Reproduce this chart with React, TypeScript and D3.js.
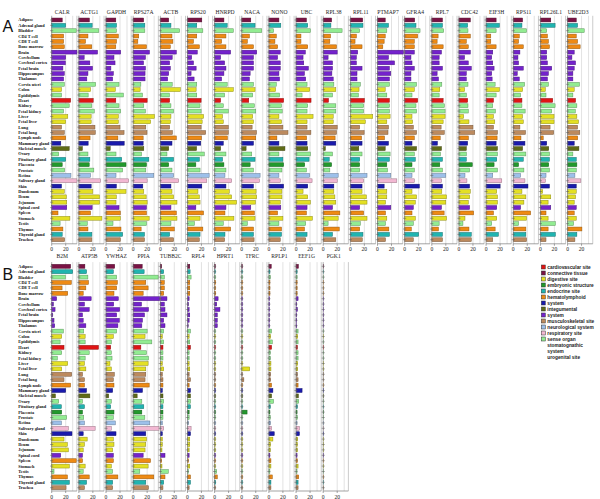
import React from 'react';
import * as d3 from 'd3';

const tissues = ['Adipose','Adrenal gland','Bladder','CD4 T cell','CD8 T cell','Bone marrow','Brain','Cerebellum','Cerebral cortex','Fetal brain','Hippocampus','Thalamus','Cervix uteri','Colon','Epididymis','Heart','Kidney','Fetal kidney','Liver','Fetal liver','Lung','Fetal lung','Lymph node','Mammary gland','Skeletal muscle','Ovary','Pituitary gland','Placenta','Prostate','Retina','Salivary gland','Skin','Duodenum','Ileum','Jejunum','Spinal cord','Spleen','Stomach','Testis','Thymus','Thyroid gland','Trachea'];

const categories = ['cardiovascular site','connective tissue','digestive site','embryonic structure','endocrine site','hematolymphoid system','integumental system','musculoskeletal site','neurological system','respiratory site','sense organ','stomatognathic system','urogenital site'];
const categoryColors = ['#E01414','#7A1244','#E4E024','#22992C','#20B4B0','#EE8A14','#1A1AAC','#5F6B16','#7422CC','#BC8A5E','#9DC0EA','#F2B8D2','#92EC92'];
const legendLines = ['cardiovascular site','connective tissue','digestive site','embryonic structure','endocrine site','hematolymphoid','system','integumental','system','musculoskeletal site','neurological system','respiratory site','sense organ','stomatognathic','system','urogenital site'];
// category index per tissue
const tissueCategory = [1,4,12,5,5,5,8,8,8,8,8,8,12,2,12,0,12,12,2,2,9,9,5,6,7,12,4,3,12,10,11,6,2,2,2,8,5,2,12,5,4,9];

const genesA = ['CALR','ACTG1','GAPDH','RPS27A','ACTB','RPS20','HNRPD','NACA','NONO','UBC','RPL38','RPL11','PTMAP7','GFRA4','RPL7','CDC42','EIF3H','RPS11','RPL26L1','UBE2D3'];
const CALR = [15,20,35,17,17,18,36,20,19.5,16,18,17,18,14,14,27,25,17,23,20,14,18,20,13,25,10,20,15,18.5,27.5,36,14,18,21,21.5,21.5,9,26,12,16,15,18.5];
const ACTG1 = [15,19,28.5,13,9.5,18.5,26.7,7.6,15.7,19.5,13,11.4,24,16.7,13.3,20.5,18.5,22,17.6,17.6,23,23.5,16,13.3,5,13,15.7,14.8,21.4,16.7,31,17.6,20,29.5,29.5,19,16.7,33,12,13,18.6,18.6];
const GAPDH = [14,15,15,17.6,15,14,21,11.4,12.9,7,10.5,9.5,18.6,13.3,24.8,14,18.6,21,17.6,17.6,20,25.8,17,26,6,14.3,22.4,28.6,23.8,14.3,32.4,14.8,28.6,14.8,14.3,18.6,20.5,20.5,10,21.4,23.8,20.5];
const RPS27A = [15,16.7,16.7,8,6.7,19,23.3,17.6,14.8,17.6,17,17,11,10,13.3,20,15.2,17.6,30.5,25,18,19.8,14.3,14.3,15.2,12,22.4,19,18,29.5,20,13.8,15.2,18.6,20,19,19,22.9,19,11.4,16.2,16.2];
const ACTB = [12,15.2,27.6,16.7,18,14.3,22.9,17,13.3,14.3,12,10.5,17,28.6,12.9,13.3,15.2,19,15.2,14.3,13.3,17.3,22.9,16.7,12,9.5,19,12,16.7,19,26.2,15.2,16.7,19,23.8,15.2,22.9,23.8,15.2,20,13.3,19];
const RPS20 = [20.5,13.3,22,13.3,8.6,17,14,6,8.6,12.4,5.2,9.5,13.3,12.4,13.3,19.5,18,19.5,23,21,19.5,26,20,19,13,24,17,12,18,31,27.6,20.5,15,17,18,12,23,18,10,22,18,17];
const HNRPD = [13.3,18,26.7,16.2,10,16.2,22.9,8.6,14.3,16.2,13.3,10,18,26.7,14.3,8.6,12.4,19.5,11.4,12.4,19.5,19.5,18.3,12.4,8.6,16.2,11.4,13.3,16.2,14.8,24.3,16.2,21,24.3,31.4,16.2,14.8,27.6,12.4,22.9,14.8,14.3];
const NACA = [12.9,19,28.6,11,8,16.7,21.4,16.7,16.7,16.7,12,11,16.7,19,15.7,10,18,20,15.7,16.7,14.8,21,20,16.7,6.2,14.3,19,12,16.7,26.2,25.2,16.7,20.5,21.4,19.5,12.9,18,19,8,16.7,16.7,17.6];
const NONO = [14.3,17,6.7,10.5,8.6,12.4,16.2,12.4,16.2,16.2,14.3,15.2,10.5,9.5,15.2,21,18,19,14.3,18,20,27.3,11.4,14.3,22.9,14.3,20,21,18.6,14.3,16.2,21,18.6,18.6,16.2,17,12.4,20,14.3,18,18,16.2];
const UBC = [14.8,16.7,20.5,7,7,16.7,13.3,10,11,17.6,12,13.8,15.7,19.5,8.6,21.4,16.7,15.7,24.3,15.7,15.7,21.2,15,15.7,16.7,20.5,18.6,12.4,14.8,19.5,22.9,16.7,10,16.7,20.5,15.7,14.8,23.3,13.8,12,15.7,13.8];
const RPL38 = [12,11,27,10.5,9.5,19,20,7,13.3,13.3,12.4,14.3,15.2,18,13.3,7.6,18,18,14.3,14.3,20,19,17,18,3,13.3,8.6,12,9.5,21.4,20,15.2,15.2,16.7,18,13.3,23.8,21.4,7,22.9,13.3,18];
const RPL11 = [17.6,18,13.3,8.6,6.7,16.7,10.5,8.6,8.6,16.7,9.5,9.5,14.3,12.4,11.4,20,19,19,32,21.4,13.3,19.7,16,16.7,12,16.7,13.3,13.3,13.3,23.8,19,16.7,16.7,22.9,23.8,13.3,19,23.8,14.3,13.3,18,17];
const PTMAP7 = [11,15.7,13.3,11,9.5,7.6,37,15.7,24.3,17,19,17,17,11,13.3,17,17,17,18,13.3,15.7,15,10,15.7,11,18,17,13.3,14.3,19,27.6,9.5,13.3,13.3,11.4,19,11.4,13.3,11.4,16.2,17,11.4];
const GFRA4 = [14.3,16.2,22,18.6,13.8,13.8,13.8,9,10.5,13.8,9,9,17,13.8,10.5,18.6,16.2,17,10.5,11.4,12.4,17,13.8,10.5,17,13.8,15.2,10.5,13.8,10.5,13.8,21,10.5,17,15.2,12.4,10.5,15.2,12.4,9.5,20,12.4];
const RPL7 = [15.2,15.2,17,9,7.6,16.2,13.8,10.5,10.5,15.2,7.6,9.5,14.3,11.4,10.5,16.2,18,19,19,16.2,13.3,17.8,12,8,13.8,12.4,15.2,11.4,15.2,20,13.8,15.2,14.3,21,20,13.8,17.6,21,10.5,9.5,15.2,15.2];
const CDC42 = [16.2,12.4,12.9,16.2,10.5,13.3,16.2,8,13.3,17.6,10.5,10.5,12.9,8,10.5,12.4,12.9,13.3,6.7,14.3,20,22.6,13.5,12.4,10.5,10.5,10.5,19,15.2,8.6,11.4,15.2,16.2,15.2,13.3,15.2,21,8.6,5.7,14.3,17.6,17.6];
const EIF3H = [14.3,19,14.3,6.7,6.7,14.3,9.5,8,9.5,11.4,8,8.6,12.9,19,14.3,10.5,9.5,13.3,10.5,12.4,10.5,16.2,15.7,14.3,16.2,16.2,15.2,11.4,16.2,9.5,22.4,20,15.2,16.2,16.2,15.2,10.5,15.2,8,12.9,17.6,9.5];
const RPS11 = [13.3,12.4,19,8.6,7.6,14.3,9.5,6.7,7.6,14.3,5.7,8.6,16.2,13.3,10.5,12.4,12.4,17,13.3,14.3,9.5,17.5,11,16.7,13.3,18,14.3,7.6,15.2,10.5,16.7,21,12.4,18,15.2,10.5,24.8,19,7.6,18,18,19];
const RPL26L1 = [14.8,21,9,10,11.4,12.9,9,9,10,16.2,11.4,10,11.4,7,8,17.6,21,16.2,19.5,19.5,13.8,19,4,9,11.9,12.9,12.9,11.9,12.9,8,7,12.9,3.3,14.8,11,14.8,8,11,21.4,11,21.4,8];
const UBE2D3 = [12.4,14.3,23.8,12.4,14.3,18,9.5,6.2,11.4,9.5,7.6,7.6,17,9.5,7.6,11.4,13.3,11,13.3,15.7,14.3,17.5,14.5,9.5,16.2,7.6,12.4,13.3,12.4,10.5,19,12.4,12.4,11.4,9.5,12.4,9.5,12.4,8.6,20.5,13.3,10.5];
const valuesA = [CALR,ACTG1,GAPDH,RPS27A,ACTB,RPS20,HNRPD,NACA,NONO,UBC,RPL38,RPL11,PTMAP7,GFRA4,RPL7,CDC42,EIF3H,RPS11,RPL26L1,UBE2D3];

const genesB = ['B2M','ATP5B','YWHAZ','PPIA','TUBB2C','RPL4','HPRT1','TFRC','RPLP1','EEF1G','PGK1'];
const B2M = [27,30,19.5,28,14.8,22.9,7,2.4,4.8,1.4,3.3,4.3,16.7,14.3,12,17.6,14.3,8,22.9,14.3,28.6,17.6,27,20,5.2,10,13.8,14.3,21.4,13.8,23.8,29,17.6,22.4,23.8,12.9,35,25.2,3.3,22.4,25.2,20.5];
const ATP5B = [8.6,11,12.9,13.8,10,6.2,17.6,8,14.8,5.2,6.2,10,7,9,9,28,14.8,9,8,10,5.2,8,8,11,15.7,5.2,8,5.2,7,8,23.3,6.2,11.9,8,6.2,5.2,5.2,9,6.2,14.8,11,8];
const YWHAZ = [12.4,10.5,15.2,16.2,15.2,11.4,17.6,11,19.5,15.2,19,17,15.2,10.5,7.6,6.7,7.6,8.6,5.7,7.6,11.9,10.5,11.4,9.5,3.8,7.6,6.7,11.4,10.5,13.3,7.6,14.3,10.5,11.4,9.5,10.5,10.5,7.6,9.5,17,9.5,9.5];
const PPIA = [12.9,15.7,35.7,18,21.4,14.3,38,11.9,21.9,16.2,13.3,12.4,20,17,26.7,11,19,21.9,21.4,18,18,17,22.9,13.3,5.7,12.4,15.2,12.4,16.7,23.8,37,18,19,18,17,14.3,24.8,21.4,9.5,29.5,18,21.9];
const TUBB2C = [1.9,4.8,5.7,5.7,5.7,4.8,9.5,5.7,6.7,9.5,4.8,6.7,4.8,2.9,4.8,3.8,3.8,3.8,2.9,4.8,2.9,3.8,3.8,2.9,3.8,4.8,3.8,3.8,3.8,2.9,4.8,2.9,2.9,2.9,2.4,6.7,1.9,2.4,11.4,6.7,4.8,3.8];
const RPL4 = [3.3,3.8,5.2,3.3,3.3,3.3,2.4,1.4,2.4,3.3,2.4,1,4.3,2.4,3.3,4.3,2.4,2.4,2.4,3.3,2.4,4.3,2.4,4.3,4.3,4.3,4.3,2.4,2.4,1.4,5.2,4.3,3.3,3.3,2.4,2.4,1.4,3.3,1.4,4.3,4.3,2.4];
const HPRT1 = [1,1,1.2,1.5,1.2,1.5,5,3,7.6,3.8,3.8,3.8,1,1,1,1,1,1,1,1,1,1,1,1,1,1,1,1,1,1,1,1,1,1,1,1,1,1,3,3.8,1.5,1];
const TFRC = [0.8,0.8,0.8,0.8,0.8,0.8,0.8,0.8,0.8,0.8,0.8,0.8,0.8,0.8,0.8,0.8,0.8,0.8,0.8,11.4,0.8,3,0.8,0.8,0.8,0.8,0.8,7.6,0.8,0.8,0.8,0.8,0.8,0.8,0.8,0.8,0.8,0.8,0.8,0.8,0.8,0.8];
const RPLP1 = [3.3,1.5,2,1.5,1.5,1.5,1,0.8,0.8,0.8,0.8,0.8,3.8,2.4,4.8,3.8,2,2,2.9,2.9,2.4,2.4,3.8,5.7,3.8,6.7,2,1.4,2,2,3.8,7.6,5.7,2.4,2,1.4,2.9,2.9,1.4,4.8,2.9,2.9];
const EEF1G = [3.3,1.5,1.5,1.5,1.5,1.5,2.9,1,1.9,1,1,1,2.9,2.4,2.9,1.9,2.9,2.9,2.4,2.4,1.9,2.9,2.9,8.6,3.3,3.8,1.9,1.4,1.9,1.4,4.8,4.8,2.4,1.9,1.9,1.4,1.9,2.9,1.4,3.8,2.9,2.9];
const PGK1 = [0.4,0.4,0.4,0.4,0.4,0.4,0.4,0.4,0.4,0.4,0.4,0.4,0.4,0.4,0.4,0.4,0.4,0.4,0.4,0.4,0.4,0.4,0.4,0.4,0.4,0.4,0.4,0.4,0.4,0.4,0.4,0.4,0.4,0.4,0.4,0.4,0.4,0.4,0.4,0.4,0.4,0.4];
const valuesB = [B2M,ATP5B,YWHAZ,PPIA,TUBB2C,RPL4,HPRT1,TFRC,RPLP1,EEF1G,PGK1];

const xTicks = [0, 20];
const gridValues = [20, 30];

const SERIF = "'Liberation Serif','Times New Roman',serif";
const SANS = "'Liberation Sans',Arial,sans-serif";

const xInner = d3.scaleLinear().domain([0, 36]).range([0, 25.2]);
const STEP = 27.15;
const X0 = 51.7;

function colorOf(i: number) {
  return categoryColors[tissueCategory[i]];
}
function strokeOf(i: number) {
  const c = d3.color(colorOf(i));
  return c ? c.darker(1.3).formatHex() : '#333';
}

type PanelProps = {
  gene: string;
  values: number[];
  x0: number;
  y: d3.ScaleBand<string>;
  axisY: number;
  headerY: number;
};

function Panel({ gene, values, x0, y, axisY, headerY }: PanelProps) {
  const top = (y.range()[0] as number) - 1.5;
  const bw = y.bandwidth();
  return (
    <g>
      <text x={x0 + 10.5} y={headerY} fontSize={5.6} fontFamily={SERIF} textAnchor="middle" fill="#222">{gene}</text>
      {gridValues.map((g) => (
        <line key={g} x1={x0 + xInner(g)} x2={x0 + xInner(g)} y1={top} y2={axisY} stroke="#cfcfcf" strokeWidth={0.6} />
      ))}
      <line x1={x0 + xInner(36)} x2={x0 + xInner(36)} y1={top} y2={axisY} stroke="#a8a8a8" strokeWidth={0.6} />
      {values.map((v, i) => (
        <rect key={i} x={x0} y={y(tissues[i])} width={Math.max(0.3, xInner(v))} height={bw}
          fill={colorOf(i)} stroke={strokeOf(i)} strokeWidth={0.5} />
      ))}
      <line x1={x0} x2={x0} y1={top} y2={axisY} stroke="#777" strokeWidth={0.6} />
      {tissues.map((t) => {
        const cy = (y(t) as number) + bw / 2;
        return <line key={t} x1={x0 - 1.6} x2={x0 + 1.6} y1={cy} y2={cy} stroke="#555" strokeWidth={0.5} />;
      })}
      <line x1={x0} x2={x0 + xInner(36)} y1={axisY} y2={axisY} stroke="#666" strokeWidth={0.6} />
      {xTicks.map((t) => (
        <g key={t}>
          <line x1={x0 + xInner(t)} x2={x0 + xInner(t)} y1={axisY} y2={axisY + 2} stroke="#666" strokeWidth={0.6} />
          <text x={x0 + xInner(t)} y={axisY + 7.6} fontSize={5.6} fontFamily={SERIF} textAnchor="middle" fill="#222">{t}</text>
        </g>
      ))}
    </g>
  );
}

function RowLabels({ y }: { y: d3.ScaleBand<string> }) {
  const bw = y.bandwidth();
  return (
    <g>
      {tissues.map((t) => (
        <text key={t} x={18.3} y={(y(t) as number) + bw / 2 + 1.5} fontSize={4.3} fontWeight="bold" fontFamily={SERIF} fill="#111">{t}</text>
      ))}
    </g>
  );
}

export default function App() {
  const yA = d3.scaleBand<string>().domain(tissues).range([17.3, 242.4]).paddingInner(0.28).paddingOuter(0.14);
  const yB = d3.scaleBand<string>().domain(tissues).range([263.6, 490.4]).paddingInner(0.28).paddingOuter(0.14);
  const colA = d3.scaleBand<string>().domain(genesA).range([X0, X0 + STEP * genesA.length]);
  const colB = d3.scaleBand<string>().domain(genesB).range([X0, X0 + STEP * genesB.length]);

  return (
    <svg width={600} height={499} style={{ position: 'absolute', left: 0, top: 0, background: '#fff' }}>
      <rect x={0} y={0} width={600} height={499} fill="#fff" />
      <text x={2.5} y={31.6} fontSize={16} fontFamily={SANS} fill="#111">A</text>
      <text x={2.5} y={279.5} fontSize={16} fontFamily={SANS} fill="#111">B</text>
      <RowLabels y={yA} />
      <RowLabels y={yB} />
      {genesA.map((g, i) => (
        <Panel key={g} gene={g} values={valuesA[i]} x0={colA(g) as number} y={yA} axisY={243.8} headerY={14.2} />
      ))}
      {genesB.map((g, i) => (
        <Panel key={g} gene={g} values={valuesB[i]} x0={colB(g) as number} y={yB} axisY={491} headerY={258} />
      ))}
      <g>
        {categories.map((c, i) => (
          <rect key={c} x={541.3} y={265 + 6 * i} width={4} height={4} fill={categoryColors[i]} stroke="#333" strokeWidth={0.5} />
        ))}
        {legendLines.map((l, i) => (
          <text key={i} x={547.3} y={268.7 + 6 * i} fontSize={4.8} fontWeight="bold" fontFamily={SANS} fill="#222">{l}</text>
        ))}
      </g>
    </svg>
  );
}
